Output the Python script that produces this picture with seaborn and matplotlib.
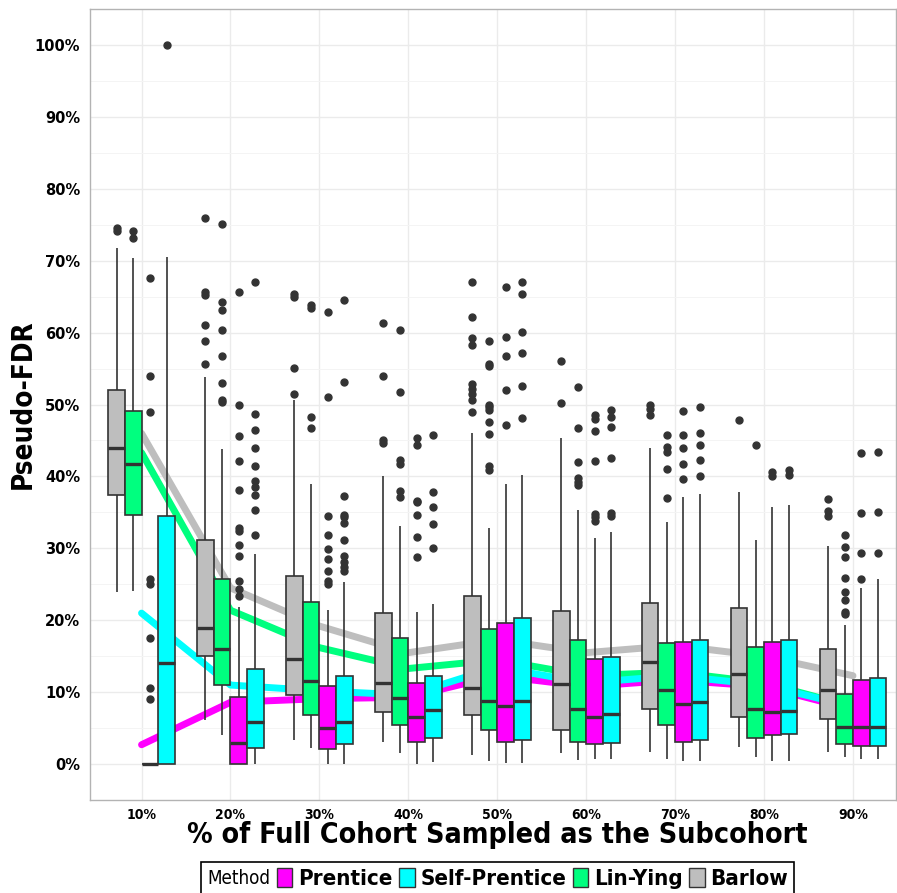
import numpy as np
import pandas as pd
import matplotlib
matplotlib.use("Agg")
import matplotlib.pyplot as plt
import seaborn as sns
from matplotlib.patches import Patch
from matplotlib.offsetbox import HPacker

# x positions: % of full cohort sampled as the subcohort
fractions = [10, 20, 30, 40, 50, 60, 70, 80, 90]

# box summaries (Pseudo-FDR, %)
barlow_lo = [23.9, 6.2, 3.4, 3.1, 1.3, 1.6, 1.75, 2.45, 1.7]
barlow_q1 = [37.4, 15.0, 9.6, 7.3, 6.85, 4.8, 7.6, 6.5, 6.3]
barlow_med = [44.0, 19.0, 14.6, 11.25, 10.55, 11.1, 14.2, 12.6, 10.35]
barlow_q3 = [52.0, 31.1, 26.1, 21.0, 23.4, 21.3, 22.4, 21.75, 16.0]
barlow_hi = [71.7, 53.8, 50.6, 40.1, 46.0, 45.3, 43.9, 37.8, 30.4]
barlow_out = [[74.5, 74.1], [75.9, 65.6, 65.2, 61.0, 58.9, 55.6], [65.3, 65.0, 55.1, 51.5],
              [61.4, 53.9, 45.0, 44.7], [67.1, 62.2, 59.2, 58.3, 52.9, 52.2, 51.4, 50.6, 49.0],
              [56.0, 50.2], [49.9, 49.4, 48.5], [47.9], [36.85, 35.2, 34.5]]

linying_lo = [24.1, 4.1, 2.3, 1.5, 0.4, 0.6, 0.7, 1.0, 1.0]
linying_q1 = [34.6, 11.0, 6.9, 5.4, 4.7, 3.15, 5.5, 3.7, 2.8]
linying_med = [41.8, 16.0, 11.6, 9.25, 8.8, 7.6, 10.3, 7.6, 5.1]
linying_q3 = [49.1, 25.7, 22.6, 17.5, 18.8, 17.2, 16.9, 16.25, 9.7]
linying_hi = [70.4, 43.75, 39.0, 33.1, 32.9, 35.3, 33.7, 31.1, 19.35]
linying_out = [[74.1, 73.2], [75.1, 64.2, 63.2, 60.3, 56.8, 53.0, 50.6, 50.4], [63.8, 63.4, 48.3, 46.7],
               [60.4, 51.8, 42.3, 41.7, 38.0, 37.1],
               [58.8, 55.7, 55.4, 50.0, 49.6, 49.2, 47.6, 45.9, 41.5, 40.9],
               [52.5, 46.8, 42.0, 39.8, 39.2, 38.8], [45.8, 44.1, 43.4, 41.0, 37.0], [44.4],
               [31.9, 30.2, 28.8, 25.9, 24.0, 22.8, 21.2, 20.9]]

prentice_lo = [0.0, 0.0, 0.0, 0.0, 0.2, 0.7, 0.5, 0.5, 0.7]
prentice_q1 = [0.0, 0.0, 2.1, 3.1, 3.15, 2.8, 3.15, 4.1, 2.5]
prentice_med = [0.0, 2.9, 5.0, 6.6, 8.1, 6.6, 8.3, 7.3, 5.1]
prentice_q3 = [0.0, 9.3, 10.9, 11.25, 19.6, 14.6, 17.0, 17.0, 11.7]
prentice_hi = [0.0, 21.8, 21.5, 21.1, 39.0, 31.5, 37.2, 35.8, 24.5]
prentice_out = [[67.6, 53.9, 49.0, 25.8, 25.1, 17.6, 10.6, 9.1],
                [65.6, 50.0, 45.6, 42.2, 38.1, 32.9, 32.4, 30.5, 29.0, 25.4, 24.4, 23.4],
                [62.9, 51.1, 34.5, 31.8, 29.9, 28.5, 26.8, 25.4, 25.0],
                [45.3, 44.4, 36.6, 36.4, 34.6, 31.6, 28.75], [66.4, 59.4, 56.7, 52.0, 47.2],
                [48.5, 48.0, 46.3, 42.1, 34.75, 34.3, 33.8], [49.1, 45.7, 44.0, 41.8, 39.7],
                [40.6, 40.1], [43.2, 34.9, 29.3, 25.8]]

selfp_lo = [0.0, 0.0, 0.0, 0.3, 0.2, 0.7, 0.5, 0.5, 0.7]
selfp_q1 = [0.0, 2.3, 2.8, 3.6, 3.4, 2.9, 3.3, 4.2, 2.5]
selfp_med = [14.0, 5.8, 5.9, 7.5, 8.8, 7.0, 8.6, 7.4, 5.1]
selfp_q3 = [34.5, 13.2, 12.2, 12.3, 20.3, 14.9, 17.3, 17.3, 12.0]
selfp_hi = [70.5, 29.2, 25.3, 22.2, 40.2, 32.3, 37.6, 36.0, 25.8]
selfp_out = [[100.0], [67.0, 48.7, 46.5, 44.0, 41.4, 39.3, 38.6, 37.4, 35.4, 31.9],
             [64.5, 53.1, 37.3, 34.6, 34.4, 33.5, 31.2, 28.9, 28.1, 27.4, 26.8],
             [45.8, 37.8, 35.8, 33.4, 30.0], [67.1, 65.4, 60.1, 57.2, 52.6, 48.1],
             [49.2, 48.3, 46.9, 42.5, 34.9, 34.5], [49.7, 46.0, 44.35, 42.3, 40.1],
             [40.85, 40.2], [43.4, 35.0, 29.3]]

# trend lines (group summaries)
barlow_trend = [46.0, 24.5, 19.2, 15.5, 17.3, 15.5, 16.5, 15.0, 12.3]
linying_trend = [43.3, 21.4, 16.2, 13.3, 14.5, 12.3, 12.8, 11.3, 8.0]
prentice_trend = [2.7, 8.6, 9.1, 9.3, 12.3, 10.8, 11.7, 10.8, 7.6]
selfp_trend = [21.0, 11.0, 10.2, 9.6, 13.5, 11.3, 12.3, 11.0, 8.0]

legend_order = ["Prentice", "Self-Prentice", "Lin-Ying", "Barlow"]
dodge_order = ["Barlow", "Lin-Ying", "Prentice", "Self-Prentice"]
palette = {"Prentice": "#FF00FF", "Self-Prentice": "#00FFFF",
           "Lin-Ying": "#00FF7F", "Barlow": "#BEBEBE"}


def expand_box(lo, q1, med, q3, hi, out, m=20):
    # sample set whose quartiles / whiskers reproduce the given summary
    return [lo] + [q1] * m + [med] * m + [q3] * m + [hi] + list(out)


boxes = {
    "Barlow": (barlow_lo, barlow_q1, barlow_med, barlow_q3, barlow_hi, barlow_out),
    "Lin-Ying": (linying_lo, linying_q1, linying_med, linying_q3, linying_hi, linying_out),
    "Prentice": (prentice_lo, prentice_q1, prentice_med, prentice_q3, prentice_hi, prentice_out),
    "Self-Prentice": (selfp_lo, selfp_q1, selfp_med, selfp_q3, selfp_hi, selfp_out),
}
rows = []
for method, (lo, q1, med, q3, hi, out) in boxes.items():
    for i, f in enumerate(fractions):
        for v in expand_box(lo[i], q1[i], med[i], q3[i], hi[i], out[i]):
            rows.append((f, method, v))
df = pd.DataFrame(rows, columns=["frac", "Method", "fdr"])

trends = {"Barlow": barlow_trend, "Lin-Ying": linying_trend,
          "Prentice": prentice_trend, "Self-Prentice": selfp_trend}
trend_df = pd.DataFrame([(f, m, v) for m, vals in trends.items() for f, v in zip(fractions, vals)],
                        columns=["frac", "Method", "fdr"])

sns.set_style("white")
plt.rcParams["font.family"] = ["DejaVu Sans"]
plt.rcParams["text.color"] = "black"
plt.rcParams["axes.labelcolor"] = "black"

fig, ax = plt.subplots(figsize=(8.97, 8.93), dpi=100)
fig.subplots_adjust(left=0.1003, right=0.999, bottom=0.104, top=0.990)

sns.lineplot(data=trend_df, x="frac", y="fdr", hue="Method", hue_order=dodge_order,
             palette=palette, linewidth=5, legend=False, ax=ax, zorder=1.5)
sns.boxplot(data=df, x="frac", y="fdr", hue="Method", hue_order=dodge_order, palette=palette,
            native_scale=True, width=0.75, gap=0, saturation=1, linecolor="#333333",
            linewidth=1.2, fliersize=5, showcaps=False,
            medianprops=dict(linewidth=2.4, color="#333333"),
            flierprops=dict(marker="o", markerfacecolor="#333333", markeredgecolor="#333333"),
            ax=ax)

ax.set_xlim(4.2, 94.85)
ax.set_ylim(-5, 105)
ax.set_xticks(fractions)
ax.set_xticklabels([f"{f}%" for f in fractions], fontsize=10, fontweight="bold",
                   fontstretch="condensed")
yt = list(range(0, 101, 10))
ax.set_yticks(yt)
ax.set_yticklabels([f"{t}%" for t in yt], fontsize=10.5, fontweight="bold")
ax.set_yticks(list(range(5, 100, 10)), minor=True)
ax.grid(which="major", color="#EBEBEB", linewidth=1.0)
ax.grid(which="minor", axis="y", color="#F4F4F4", linewidth=0.7)
ax.set_axisbelow(True)
ax.tick_params(axis="both", which="major", length=4, color="#333333", width=0.9,
               labelcolor="black")
ax.tick_params(axis="x", which="major", pad=1.5)
ax.tick_params(axis="y", which="major", pad=3)
ax.tick_params(which="minor", length=0)
for s in ax.spines.values():
    s.set_color("#B3B3B3")
    s.set_linewidth(1.0)

ax.set_ylabel("Pseudo-FDR", fontsize=20, fontweight="bold", fontstretch="condensed", va="center")
ax.yaxis.set_label_coords(-0.083, 0.5)
ax.set_xlabel("% of Full Cohort Sampled as the Subcohort", fontsize=20.5, fontweight="bold",
              fontstretch="condensed", va="center")
ax.xaxis.set_label_coords(0.505, -0.0445)

if ax.get_legend() is not None:
    ax.get_legend().remove()
handles = [Patch(facecolor=palette[m], edgecolor="#333333", linewidth=1.0) for m in legend_order]
leg = fig.legend(handles, legend_order, loc="upper center", bbox_to_anchor=(0.5546, 0.0347),
                 ncol=4, frameon=True, fancybox=False, edgecolor="black", framealpha=1,
                 prop=dict(size=16, weight="bold", stretch="condensed"), title="Method",
                 title_fontproperties=dict(size=13.5, stretch="condensed"),
                 handlelength=0.7, handleheight=0.95,
                 handletextpad=0.25, columnspacing=0.3, borderpad=0.3, borderaxespad=0)
leg.get_frame().set_linewidth(1.2)
# put the legend title on the left, as ggplot does
leg._legend_box = HPacker(pad=4, sep=5, align="center",
                          children=[leg._legend_title_box, leg._legend_handle_box])
leg._legend_box.set_figure(fig)
leg._legend_box.set_offset(leg._findoffset)

fig.savefig("out.png", dpi=100)
